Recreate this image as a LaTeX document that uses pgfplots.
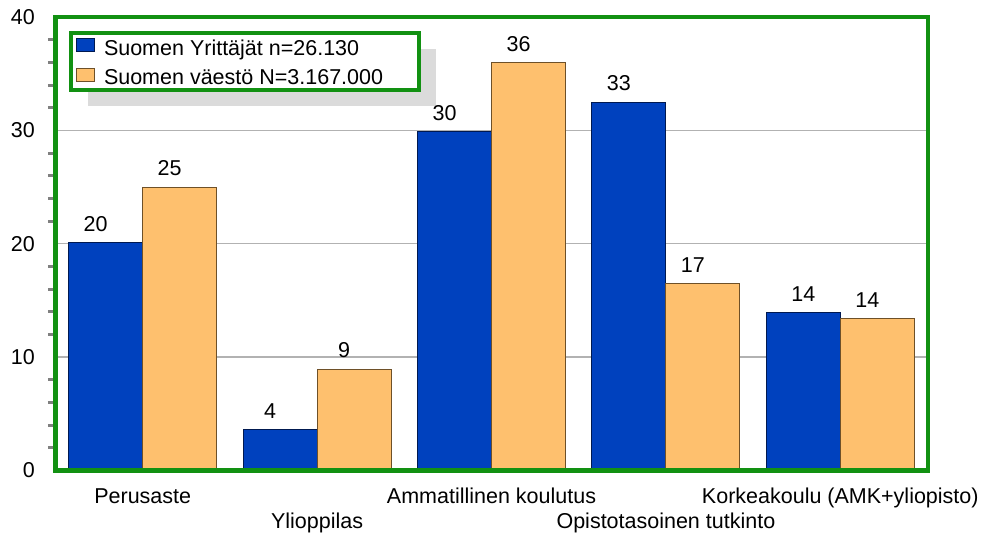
\documentclass[border=0pt]{standalone}
\usepackage{pgfplots}
\pgfplotsset{compat=1.18}
\usepackage{fontspec}
\setmainfont{Liberation Sans}
\usetikzlibrary{backgrounds}
\definecolor{barblue}{RGB}{0,65,190}
\definecolor{barblueedge}{RGB}{0,25,80}
\definecolor{barorange}{RGB}{254,192,110}
\definecolor{barorangeedge}{RGB}{110,80,40}
\definecolor{framegreen}{RGB}{18,145,18}
\newcommand{\chartfont}{\fontsize{21.5bp}{25bp}\selectfont}
\begin{document}
\begin{tikzpicture}
\begin{axis}[
 name=ax,
 scale only axis,
 width=872bp, height=453.5bp,
 ybar=0pt, bar width=74bp,
 xmin=-0.5, xmax=4.5,
 ymin=0, ymax=40,
 xtick={0,1,2,3,4},
 xticklabels={{\strut Perusaste},{\strut\\\strut Ylioppilas},{\strut Ammatillinen koulutus},{\strut\\\strut Opistotasoinen tutkinto},{\strut Korkeakoulu (AMK+yliopisto)}},
 x tick label style={align=center, anchor=north, inner sep=0pt, yshift=-15.5bp, font=\chartfont},
 ytick={0,10,20,30,40},
 minor y tick num=4,
 ytick pos=left,
 xtick pos=bottom,
 y tick label style={anchor=east, inner sep=0pt, xshift=-20.5bp, font=\chartfont},
 /pgf/number format/assume math mode=true,
 tick align=outside,
 major tick length=0pt,
 minor tick length=7.5bp,
 minor tick style={color=gray, line width=3bp},
 ymajorgrids,
 grid style={color=black!30, line width=1.5bp},
 axis line style={draw=none},
 clip=false,
 point meta=explicit symbolic,
 nodes near coords,
 nodes near coords style={font=\chartfont, anchor=south, inner sep=0pt, yshift=10.5bp, xshift=-10bp, color=black},
 legend image code/.code={\draw[#1, line width=1bp] (0bp,-3.5bp) rectangle (18bp,9.5bp);},
 legend style={
   name=leg,
   at={(0,1)}, anchor=north west, xshift=15.5bp, yshift=-16.5bp,
   draw=framegreen, line width=4bp, fill=white, outer sep=0pt,
   inner xsep=5bp, inner ysep=4.5bp, row sep=11bp,
   font=\chartfont,
   nodes={inner xsep=0pt, inner ysep=0pt},
   /tikz/every odd column/.style={column sep=9bp},
 },
 legend cell align=left,
]
\addplot[fill=barblue, draw=barblueedge, line width=1bp] coordinates {
 (0,20.1) [20]
 (1,3.6) [4]
 (2,29.9) [30]
 (3,32.5) [33]
 (4,13.95) [{\hspace{20bp}14}]
};
\addlegendentry{\makebox[309.5bp][l]{Suomen Yrittäjät n=26.130}}
\addplot[fill=barorange, draw=barorangeedge, line width=1bp] coordinates {
 (0,25) [25]
 (1,8.95) [9]
 (2,36) [36]
 (3,16.5) [17]
 (4,13.4) [14]
};
\addlegendentry{\makebox[309.5bp][l]{Suomen väestö N=3.167.000}}
\draw[framegreen, line width=4bp] (rel axis cs:0,0) rectangle (rel axis cs:1,1);
\end{axis}
\begin{pgfonlayer}{background}
\fill[black!14] ([shift={(17bp,-16bp)}]leg.south west) rectangle ([shift={(17bp,-16bp)}]leg.north east);
\end{pgfonlayer}
\pgfresetboundingbox
\path[use as bounding box] ([shift={(-55.5bp,-63.5bp)}]ax.south west) rectangle ([shift={(56.5bp,17bp)}]ax.north east);
\end{tikzpicture}
\end{document}
